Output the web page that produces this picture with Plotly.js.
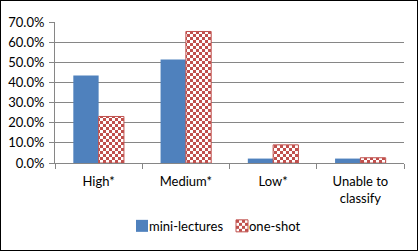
<!DOCTYPE html>
<html>
<head>
<meta charset="utf-8">
<script src="https://cdn.plot.ly/plotly-3.0.1.min.js"></script>
<style>
html,body{margin:0;padding:0;background:#fff;}
#wrap{position:relative;width:418px;height:251px;}
#chart{width:418px;height:251px;}
#frame{position:absolute;left:0;top:0;width:416px;height:249px;border:1px solid #000;pointer-events:none;}
</style>
</head>
<body>
<div id="wrap"><div id="chart"></div><div id="frame"></div></div>
<script>
var categories = ["High*", "Medium*", "Low*", "Unable to<br>classify"];
var miniLectures = [0.434, 0.514, 0.022, 0.022];
var oneShot = [0.231, 0.653, 0.090, 0.026];
var seriesNames = ["mini-lectures", "one-shot"];

var font = {family: "Lato, 'Open Sans', sans-serif", size: 13, color: "#000"};

var traces = [
  {type: "bar", name: seriesNames[0], x: categories, y: miniLectures,
   marker: {color: "#4F81BD", line: {width: 0}}},
  {type: "bar", name: seriesNames[1], x: categories, y: oneShot,
   marker: {color: "#C0504D", line: {color: "#C0504D", width: 1},
            pattern: {shape: "+", fgcolor: "#C0504D", bgcolor: "#ffffff", size: 6, solidity: 0.5, fillmode: "replace"}}}
];

var layout = {
  width: 418, height: 251,
  margin: {l: 55, r: 14, t: 22, b: 88, autoexpand: false},
  paper_bgcolor: "#fff", plot_bgcolor: "#fff",
  font: font,
  barmode: "group",
  bargap: 0.42,
  bargroupgap: 0,
  showlegend: true,
  legend: {orientation: "h", x: 122 / 418, xanchor: "left", xref: "container",
           y: 0.1, yanchor: "middle", yref: "container",
           font: font, itemwidth: 30, tracegroupgap: 0, entrywidth: 55, entrywidthmode: "pixels"},
  xaxis: {type: "category", showline: true, linecolor: "#868686", linewidth: 1,
          ticks: "outside", tickson: "boundaries", ticklen: 5, tickcolor: "#868686",
          ticklabelstandoff: 6,
          showgrid: false, tickfont: font, fixedrange: true, automargin: false},
  yaxis: {range: [0, 0.7], dtick: 0.1, tickformat: ".1%", showline: true,
          linecolor: "#868686", linewidth: 1, ticks: "outside", ticklen: 5,
          tickcolor: "#868686", gridcolor: "#868686", gridwidth: 1, ticklabelstandoff: 2,
          zeroline: false, tickfont: font, fixedrange: true, automargin: false}
};

function checker() {
  var ns = "http://www.w3.org/2000/svg";
  document.querySelectorAll("#chart pattern").forEach(function(p) {
    p.setAttribute("width", 6); p.setAttribute("height", 6);
    p.setAttribute("patternUnits", "userSpaceOnUse");
    p.removeAttribute("patternTransform");
    while (p.firstChild) p.removeChild(p.firstChild);
    var bg = document.createElementNS(ns, "rect");
    bg.setAttribute("x", 0); bg.setAttribute("y", 0);
    bg.setAttribute("width", 6); bg.setAttribute("height", 6);
    bg.setAttribute("fill", "#ffffff");
    p.appendChild(bg);
    [[0,0],[3,3]].forEach(function(c) {
      var r = document.createElementNS(ns, "rect");
      r.setAttribute("x", c[0]); r.setAttribute("y", c[1]);
      r.setAttribute("width", 3); r.setAttribute("height", 3);
      r.setAttribute("fill", "#C0504D");
      p.appendChild(r);
    });
  });
  document.querySelectorAll("#chart .legendtext").forEach(function(t) {
    t.setAttribute("x", 27);
  });
}

Plotly.newPlot("chart", traces, layout, {displayModeBar: false, staticPlot: true}).then(checker);
</script>
</body>
</html>
